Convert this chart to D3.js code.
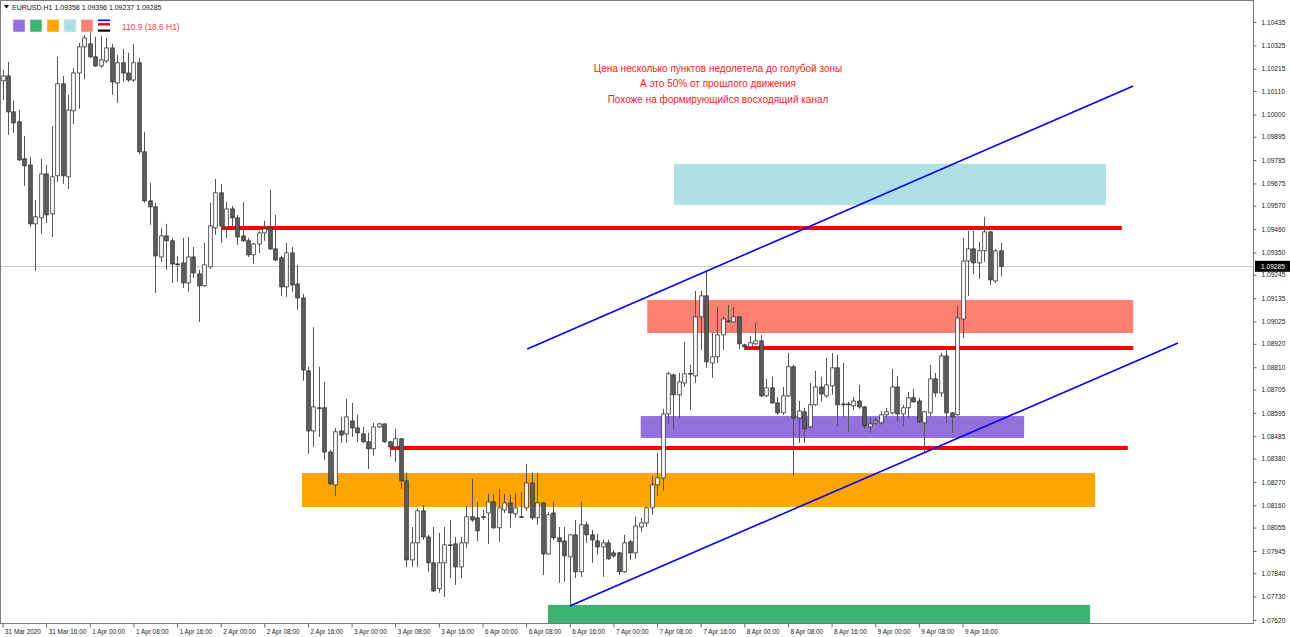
<!DOCTYPE html>
<html>
<head>
<meta charset="utf-8">
<script src="https://cdn.jsdelivr.net/npm/d3@7"></script>
<style>
  body { margin: 0; background: #fff; }
  svg { display: block; font-family: "Liberation Sans", Arial, sans-serif; }
</style>
</head>
<body>
<div id="chart"></div>
<script>
// EURUSD H1, 31 Mar 2020 08:00 .. 9 Apr 2020 23:00 (bar index 0..183)
const open = [
  1.10158, 1.10181, 1.10012, 1.09965, 1.09791, 1.09762, 1.09485, 1.09513, 1.09720, 1.09532,
  1.09711, 1.10144, 1.09706, 1.10017, 1.10195, 1.10318, 1.10332, 1.10271, 1.10228, 1.10252,
  1.10313, 1.10148, 1.10243, 1.10195, 1.10162, 1.10243, 1.09824, 1.09593, 1.09565, 1.09329,
  1.09428, 1.09405, 1.09296, 1.09301, 1.09207, 1.09329, 1.09249, 1.09193, 1.09282, 1.09466,
  1.09631, 1.09471, 1.09555, 1.09513, 1.09428, 1.09405, 1.09339, 1.09390, 1.09442, 1.09466,
  1.09367, 1.09325, 1.09188, 1.09348, 1.09202, 1.09136, 1.08793, 1.08510, 1.08619, 1.08619,
  1.08411, 1.08256, 1.08510, 1.08496, 1.08557, 1.08524, 1.08496, 1.08459, 1.08426, 1.08529,
  1.08543, 1.08459, 1.08435, 1.08473, 1.08275, 1.07903, 1.07983, 1.08134, 1.08011, 1.07889,
  1.07767, 1.07889, 1.07974, 1.07978, 1.07870, 1.07983, 1.08106, 1.08101, 1.08106, 1.08124,
  1.08176, 1.08054, 1.08138, 1.08171, 1.08120, 1.08106, 1.08148, 1.08265, 1.08101, 1.08171,
  1.07931, 1.08124, 1.08007, 1.07992, 1.07917, 1.08021, 1.07847, 1.08068, 1.08021, 1.07992,
  1.07964, 1.07983, 1.07936, 1.07936, 1.07847, 1.07988, 1.07936, 1.08058, 1.08077, 1.08148,
  1.08256, 1.08289, 1.08590, 1.08774, 1.08680, 1.08736, 1.08779, 1.08769, 1.09047, 1.09146,
  1.08830, 1.08859, 1.08962, 1.09028, 1.09023, 1.09047, 1.08915, 1.08906, 1.08920, 1.08934,
  1.08675, 1.08713, 1.08642, 1.08595, 1.08675, 1.08812, 1.08571, 1.08600, 1.08529, 1.08633,
  1.08717, 1.08675, 1.08722, 1.08807, 1.08637, 1.08637, 1.08628, 1.08651, 1.08623, 1.08529,
  1.08548, 1.08548, 1.08586, 1.08595, 1.08717, 1.08590, 1.08619, 1.08666, 1.08651, 1.08548,
  1.08595, 1.08755, 1.08689, 1.08863, 1.08595, 1.08586, 1.09037, 1.09310, 1.09367, 1.09301,
  1.09358, 1.09447, 1.09216, 1.09358
];
const high = [
  1.10210, 1.10247, 1.10064, 1.10021, 1.09899, 1.09800, 1.09598, 1.09791, 1.09762, 1.09946,
  1.10271, 1.10181, 1.10092, 1.10219, 1.10337, 1.10374, 1.10388, 1.10365, 1.10370, 1.10360,
  1.10332, 1.10280, 1.10308, 1.10290, 1.10332, 1.10266, 1.09918, 1.09678, 1.09584, 1.09466,
  1.09485, 1.09419, 1.09334, 1.09419, 1.09423, 1.09376, 1.09268, 1.09395, 1.09584, 1.09696,
  1.09673, 1.09588, 1.09569, 1.09527, 1.09588, 1.09419, 1.09395, 1.09452, 1.09499, 1.09645,
  1.09527, 1.09334, 1.09395, 1.09376, 1.09292, 1.09155, 1.08812, 1.08998, 1.08812, 1.08741,
  1.08421, 1.08524, 1.08576, 1.08661, 1.08642, 1.08586, 1.08529, 1.08501, 1.08548, 1.08548,
  1.08545, 1.08461, 1.08520, 1.08476, 1.08313, 1.08058, 1.08148, 1.08162, 1.08021, 1.08058,
  1.08030, 1.08058, 1.08091, 1.08011, 1.08011, 1.08157, 1.08284, 1.08176, 1.08138, 1.08214,
  1.08214, 1.08237, 1.08214, 1.08209, 1.08218, 1.08223, 1.08355, 1.08313, 1.08313, 1.08176,
  1.08129, 1.08176, 1.08058, 1.08058, 1.08025, 1.08091, 1.08176, 1.08082, 1.08044, 1.08026,
  1.07997, 1.07997, 1.07950, 1.07941, 1.08021, 1.07997, 1.08106, 1.08101, 1.08153, 1.08298,
  1.08407, 1.08614, 1.08788, 1.08779, 1.08783, 1.08929, 1.08821, 1.09169, 1.09169, 1.09259,
  1.08972, 1.09094, 1.09047, 1.09103, 1.09094, 1.09050, 1.08920, 1.08957, 1.09019, 1.08962,
  1.08755, 1.08765, 1.08670, 1.08717, 1.08877, 1.08821, 1.08651, 1.08619, 1.08736, 1.08793,
  1.08765, 1.08854, 1.08877, 1.08868, 1.08830, 1.08647, 1.08670, 1.08727, 1.08628, 1.08571,
  1.08571, 1.08604, 1.08619, 1.08802, 1.08769, 1.08633, 1.08694, 1.08708, 1.08666, 1.08602,
  1.08821, 1.08783, 1.08877, 1.08892, 1.08600, 1.09099, 1.09419, 1.09452, 1.09452, 1.09400,
  1.09518, 1.09450, 1.09367, 1.09396
];
const low = [
  1.10068, 1.09904, 1.09913, 1.09781, 1.09664, 1.09471, 1.09263, 1.09438, 1.09489, 1.09423,
  1.09682, 1.09673, 1.09649, 1.09955, 1.10026, 1.10167, 1.10266, 1.10224, 1.10219, 1.10243,
  1.10092, 1.10054, 1.10153, 1.10153, 1.10153, 1.09814, 1.09584, 1.09480, 1.09160, 1.09306,
  1.09268, 1.09207, 1.09212, 1.09183, 1.09165, 1.09230, 1.09023, 1.09188, 1.09273, 1.09433,
  1.09395, 1.09419, 1.09471, 1.09386, 1.09400, 1.09329, 1.09296, 1.09348, 1.09405, 1.09362,
  1.09310, 1.09146, 1.09141, 1.09165, 1.09080, 1.08746, 1.08402, 1.08435, 1.08482, 1.08374,
  1.08256, 1.08204, 1.08454, 1.08454, 1.08482, 1.08459, 1.08454, 1.08331, 1.08393, 1.08524,
  1.08454, 1.08388, 1.08364, 1.08237, 1.07870, 1.07870, 1.07870, 1.07997, 1.07847, 1.07752,
  1.07748, 1.07729, 1.07818, 1.07785, 1.07818, 1.07960, 1.08082, 1.07992, 1.08091, 1.07978,
  1.08049, 1.07988, 1.08124, 1.08054, 1.08101, 1.08101, 1.08134, 1.08091, 1.08068, 1.07832,
  1.07927, 1.07997, 1.07795, 1.07800, 1.07682, 1.07818, 1.07823, 1.07983, 1.07889, 1.07927,
  1.07823, 1.07903, 1.07912, 1.07832, 1.07842, 1.07903, 1.07908, 1.08035, 1.08058, 1.08115,
  1.08204, 1.08228, 1.08543, 1.08515, 1.08571, 1.08717, 1.08609, 1.08736, 1.08892, 1.08807,
  1.08760, 1.08830, 1.08892, 1.09019, 1.09019, 1.08896, 1.08892, 1.08904, 1.08915, 1.08670,
  1.08670, 1.08637, 1.08586, 1.08586, 1.08670, 1.08298, 1.08454, 1.08454, 1.08524, 1.08628,
  1.08647, 1.08666, 1.08680, 1.08534, 1.08576, 1.08506, 1.08609, 1.08614, 1.08520, 1.08501,
  1.08539, 1.08539, 1.08576, 1.08586, 1.08553, 1.08534, 1.08571, 1.08642, 1.08548, 1.08411,
  1.08576, 1.08670, 1.08670, 1.08548, 1.08501, 1.08581, 1.08948, 1.09146, 1.09249, 1.09226,
  1.09306, 1.09197, 1.09207, 1.09237
];
const close = [
  1.10181, 1.10012, 1.09960, 1.09786, 1.09758, 1.09485, 1.09518, 1.09720, 1.09527, 1.09706,
  1.10144, 1.09711, 1.10021, 1.10195, 1.10318, 1.10360, 1.10271, 1.10228, 1.10257, 1.10313,
  1.10153, 1.10243, 1.10195, 1.10162, 1.10243, 1.09824, 1.09593, 1.09565, 1.09334, 1.09428,
  1.09405, 1.09296, 1.09294, 1.09207, 1.09329, 1.09254, 1.09193, 1.09292, 1.09475, 1.09631,
  1.09475, 1.09555, 1.09513, 1.09423, 1.09405, 1.09339, 1.09390, 1.09442, 1.09461, 1.09367,
  1.09315, 1.09188, 1.09348, 1.09197, 1.09136, 1.08797, 1.08510, 1.08623, 1.08617, 1.08411,
  1.08261, 1.08506, 1.08491, 1.08576, 1.08524, 1.08501, 1.08459, 1.08426, 1.08529, 1.08543,
  1.08459, 1.08435, 1.08473, 1.08275, 1.07903, 1.07983, 1.08134, 1.08011, 1.07889, 1.07757,
  1.07889, 1.07974, 1.07972, 1.07870, 1.07983, 1.08106, 1.08091, 1.08040, 1.08104, 1.08176,
  1.08054, 1.08148, 1.08171, 1.08124, 1.08148, 1.08104, 1.08265, 1.08101, 1.08171, 1.07931,
  1.08115, 1.08007, 1.07988, 1.07922, 1.08021, 1.07847, 1.08068, 1.08021, 1.07997, 1.07964,
  1.07983, 1.07908, 1.07922, 1.07847, 1.07983, 1.07936, 1.08063, 1.08077, 1.08148, 1.08256,
  1.08289, 1.08590, 1.08779, 1.08680, 1.08741, 1.08779, 1.08781, 1.09047, 1.09146, 1.08835,
  1.08859, 1.08962, 1.09037, 1.09026, 1.09047, 1.08920, 1.08906, 1.08925, 1.08934, 1.08675,
  1.08713, 1.08642, 1.08595, 1.08675, 1.08812, 1.08571, 1.08604, 1.08520, 1.08633, 1.08717,
  1.08684, 1.08727, 1.08807, 1.08633, 1.08633, 1.08635, 1.08651, 1.08623, 1.08534, 1.08543,
  1.08557, 1.08586, 1.08600, 1.08717, 1.08590, 1.08619, 1.08666, 1.08647, 1.08553, 1.08600,
  1.08755, 1.08689, 1.08863, 1.08595, 1.08576, 1.09042, 1.09310, 1.09367, 1.09301, 1.09358,
  1.09447, 1.09221, 1.09358, 1.09285
];

const timeLabels = [
  "31 Mar 2020", "31 Mar 16:00", "1 Apr 00:00", "1 Apr 08:00", "1 Apr 16:00", "2 Apr 00:00",
  "2 Apr 08:00", "2 Apr 16:00", "3 Apr 00:00", "3 Apr 08:00", "3 Apr 16:00", "6 Apr 00:00",
  "6 Apr 08:00", "6 Apr 16:00", "7 Apr 00:00", "7 Apr 08:00", "7 Apr 16:00", "8 Apr 00:00",
  "8 Apr 08:00", "8 Apr 16:00", "9 Apr 00:00", "9 Apr 08:00", "9 Apr 16:00"
];
const priceTicks = [
  1.10435, 1.10325, 1.10215, 1.10110, 1.10000, 1.09895, 1.09785, 1.09675, 1.09570,
  1.09460, 1.09350, 1.09245, 1.09135, 1.09025, 1.08920, 1.08810, 1.08705, 1.08595,
  1.08485, 1.08380, 1.08270, 1.08160, 1.08055, 1.07945, 1.07840, 1.07730, 1.07620
];

// zones: [fromBar, toBar, priceTop, priceBottom]
const zoneColors = ["#9370DB", "#3CB371", "#FFA500", "#B0E0E6", "#FA8072"];
const zonePurple = [117.0, 187.3, 1.08580, 1.08477];
const zoneGreen = [100.0, 199.4, 1.07691, 1.07500];
const zoneOrange = [54.9, 200.3, 1.08312, 1.08152];
const zoneBlue = [123.1, 202.3, 1.09767, 1.09574];
const zoneSalmon = [118.2, 207.3, 1.09126, 1.08971];
// red levels: [fromBar, toBar, price]
const levels = [[40.2, 205.2, 1.09465], [136.1, 207.3, 1.08900], [71.0, 206.3, 1.08430]];
// channel lines: [bar1, price1, bar2, price2]
const channel = [[96.2, 1.08896, 207.3, 1.10134], [104.0, 1.07686, 215.5, 1.08924]];
const lastPrice = 1.09285;
const notes = [
  "Цена несколько пунктов недолетела до голубой зоны",
  "А это 50% от прошлого движения",
  "Похоже на формирующийся восходящий канал"
];

const width = 1290, height = 637;
const plotRight = 1253, plotBottom = 623;

const svg = d3.select("#chart").append("svg")
  .attr("width", width)
  .attr("height", height);

const x = d3.scaleLinear().domain([0, 176]).range([2.5, 962.5]);
const y = d3.scaleLinear().domain([1.07620, 1.10435]).range([620, 22]);

svg.append("clipPath").attr("id", "plot")
  .append("rect").attr("x", 1).attr("y", 1)
  .attr("width", plotRight - 1).attr("height", plotBottom - 1);

const plot = svg.append("g").attr("clip-path", "url(#plot)");

// zones
const zones = [
  [zoneBlue, zoneColors[3]], [zoneSalmon, zoneColors[4]], [zonePurple, zoneColors[0]],
  [zoneOrange, zoneColors[2]], [zoneGreen, zoneColors[1]]
];
plot.selectAll(".zone")
  .data(zones)
  .enter().append("rect")
  .attr("class", "zone")
  .attr("x", d => x(d[0][0]))
  .attr("y", d => y(d[0][2]))
  .attr("width", d => x(d[0][1]) - x(d[0][0]))
  .attr("height", d => y(d[0][3]) - y(d[0][2]))
  .style("fill", d => d[1]);

// current price line
plot.append("line")
  .attr("x1", 0).attr("x2", plotRight)
  .attr("y1", Math.round(y(lastPrice)) + 0.5).attr("y2", Math.round(y(lastPrice)) + 0.5)
  .style("stroke", "#c8c8c8").style("stroke-width", 1);

// red levels
plot.selectAll(".level")
  .data(levels)
  .enter().append("line")
  .attr("class", "level")
  .attr("x1", d => x(d[0])).attr("x2", d => x(d[1]))
  .attr("y1", d => y(d[2])).attr("y2", d => y(d[2]))
  .style("stroke", "#ff0000").style("stroke-width", 4);

// candles
const bars = d3.range(open.length);
const bodyW = 3.6;

plot.selectAll(".wick")
  .data(bars)
  .enter().append("line")
  .attr("class", "wick")
  .attr("x1", i => Math.round(x(i)) + 0.5).attr("x2", i => Math.round(x(i)) + 0.5)
  .attr("y1", i => y(high[i])).attr("y2", i => y(low[i]))
  .style("stroke", "#555").style("stroke-width", 1);

plot.selectAll(".body")
  .data(bars)
  .enter().append("rect")
  .attr("class", "body")
  .attr("x", i => Math.round(x(i)) + 0.5 - bodyW / 2)
  .attr("y", i => y(Math.max(open[i], close[i])))
  .attr("width", bodyW)
  .attr("height", i => Math.max(0.8, Math.abs(y(open[i]) - y(close[i]))))
  .style("fill", i => close[i] >= open[i] ? "#ffffff" : "#5e5e5e")
  .style("stroke", "#333")
  .style("stroke-width", 0.8);

// channel
plot.selectAll(".channel")
  .data(channel)
  .enter().append("line")
  .attr("class", "channel")
  .attr("x1", d => x(d[0])).attr("y1", d => y(d[1]))
  .attr("x2", d => x(d[2])).attr("y2", d => y(d[3]))
  .style("stroke", "#0000ff").style("stroke-width", 1.6);

// frame
svg.append("rect")
  .attr("x", 0.5).attr("y", 0.5)
  .attr("width", plotRight).attr("height", plotBottom)
  .style("fill", "none").style("stroke", "#7a7a7a").style("stroke-width", 1);

// price axis
const yAxis = svg.append("g")
  .attr("transform", `translate(${plotRight + 0.5},0)`)
  .call(d3.axisRight(y).tickValues(priceTicks).tickFormat(d3.format(".5f")).tickSize(3).tickPadding(5));
yAxis.select(".domain").remove();
yAxis.selectAll("line").style("stroke", "#666");
yAxis.selectAll("text").style("font-size", "6.6px").style("fill", "#222");

// last price label
svg.append("rect")
  .attr("x", plotRight + 2).attr("y", y(lastPrice) - 5.5)
  .attr("width", 36).attr("height", 11)
  .style("fill", "#000");
svg.append("text")
  .attr("x", plotRight + 8).attr("y", y(lastPrice))
  .attr("dy", "0.35em")
  .style("font-size", "6.6px").style("fill", "#fff")
  .text(d3.format(".5f")(lastPrice));

// time axis
const xAxis = svg.append("g")
  .attr("transform", `translate(0,${plotBottom + 0.5})`)
  .call(d3.axisBottom(x).tickValues(timeLabels.map((d, i) => i * 8))
    .tickFormat((d, i) => timeLabels[i]).tickSize(4).tickPadding(2));
xAxis.select(".domain").remove();
xAxis.selectAll("line").style("stroke", "#666");
xAxis.selectAll("text")
  .attr("x", 2)
  .style("text-anchor", "start")
  .style("font-size", "6.4px")
  .style("fill", "#222");

// header
svg.append("path")
  .attr("d", "M4,5 L9,5 L6.5,8.5 Z")
  .style("fill", "#000");
svg.append("text")
  .attr("x", 12).attr("y", 10)
  .style("font-size", "7px").style("fill", "#111")
  .text("EURUSD.H1  1.09358 1.09396 1.09237 1.09285");

// object palette
svg.selectAll(".swatch")
  .data(zoneColors)
  .enter().append("rect")
  .attr("class", "swatch")
  .attr("x", (d, i) => 13 + i * 17)
  .attr("y", 19.5)
  .attr("width", 12).attr("height", 12.5)
  .style("fill", d => d)
  .style("stroke", "#e8e8f0").style("stroke-width", 0.6);

const icon = svg.append("g").attr("transform", "translate(98,19.5)");
icon.append("rect").attr("width", 12).attr("height", 1.6).style("fill", "#0000ff");
icon.append("rect").attr("y", 3.6).attr("width", 12).attr("height", 2.4).style("fill", "#ff0000");
icon.append("rect").attr("y", 10).attr("width", 12).attr("height", 2.2).style("fill", "#000");

svg.append("text")
  .attr("x", 122).attr("y", 27)
  .attr("dy", "0.35em")
  .style("font-size", "8.4px").style("fill", "#ff3c3c")
  .text("110.9 (18.6 H1)");

// notes
svg.selectAll(".note")
  .data(notes)
  .enter().append("text")
  .attr("class", "note")
  .attr("x", 718)
  .attr("y", (d, i) => 68 + i * 15.5)
  .attr("dy", "0.35em")
  .style("text-anchor", "middle")
  .style("font-size", "10px")
  .style("fill", "#ff1a1a")
  .text(d => d);
</script>
</body>
</html>
